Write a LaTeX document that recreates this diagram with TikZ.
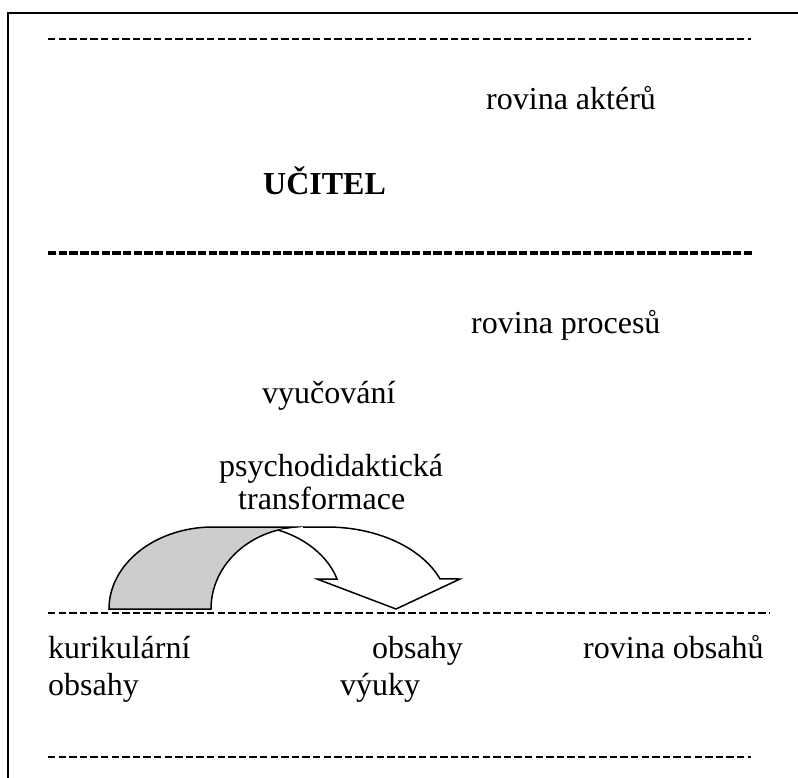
\documentclass[tikz,border=0pt]{standalone}
\usepackage{fontspec}
\setmainfont{Liberation Serif}
\definecolor{tailgray}{RGB}{205,205,205}
\begin{document}
\begin{tikzpicture}[x=1pt,y=-1pt,
  txt/.style={anchor=base west,inner sep=0pt,font=\fontsize{32}{38}\selectfont},
  thindash/.style={line width=2.3pt,dash pattern=on 7.3pt off 3.3pt},
  bolddash/.style={line width=3.8pt,dash pattern=on 8.4pt off 2.3pt},
  arrowline/.style={line width=1.5pt,line join=miter}]
\useasboundingbox (0,0) rectangle (798,778);
% frame
\draw[line width=2pt] (8,778) -- (8,13) -- (798,13);
% dashed levels
\draw[thindash] (48,39) -- (751,39);
\draw[bolddash] (48,253) -- (752,253);
\draw[thindash] (48,613) -- (770,613);
\draw[thindash] (48,757) -- (751,757);
% texts
\node[txt] (akt) at (486,110) {rovina aktérů};
\node[txt,font=\fontsize{32}{38}\selectfont\bfseries] (ucitel) at (263,195) {UČITEL};
\node[txt] (proc) at (471,333) {rovina procesů};
\node[txt] (vyuc) at (262,403) {vyučování};
\node[txt] (psy) at (219,476) {psychodidaktická};
\node[txt] (tra) at (238,509) {transformace};
\node[txt] (kur) at (48,658) {kurikulární};
\node[txt] (obs1) at (48,695) {obsahy};
\node[txt] (obs2) at (372,658) {obsahy};
\node[txt] (vyu) at (340,695) {výuky};
\node[txt] (robs) at (583,658) {rovina obsahů};
% curved arrow: shaded tail
\draw[arrowline,fill=tailgray] (109,609) -- (211,609)
  .. controls (211,563.7) and (252.2,527) .. (303,527)
  -- (213,527)
  .. controls (155.6,527) and (109,563.7) .. (109,609) -- cycle;
% white head body
\fill[white] (278,530) -- (303,527) -- (327,527)
  -- plot[domain=90:21.5,samples=30,variable=\t] ({327+121.5*cos(\t)},{609-82*sin(\t)})
  -- (460,579) -- (396,609) -- (317,579) -- (337,579)
  .. controls (328,556) and (305,538) .. (278,530) -- cycle;
\draw[arrowline] (303,527) -- (327,527)
  -- plot[domain=90:21.5,samples=30,variable=\t] ({327+121.5*cos(\t)},{609-82*sin(\t)})
  -- (460,579) -- (396,609) -- (317,579) -- (337,579)
  .. controls (328,556) and (305,538) .. (278,530);
\end{tikzpicture}
\end{document}
